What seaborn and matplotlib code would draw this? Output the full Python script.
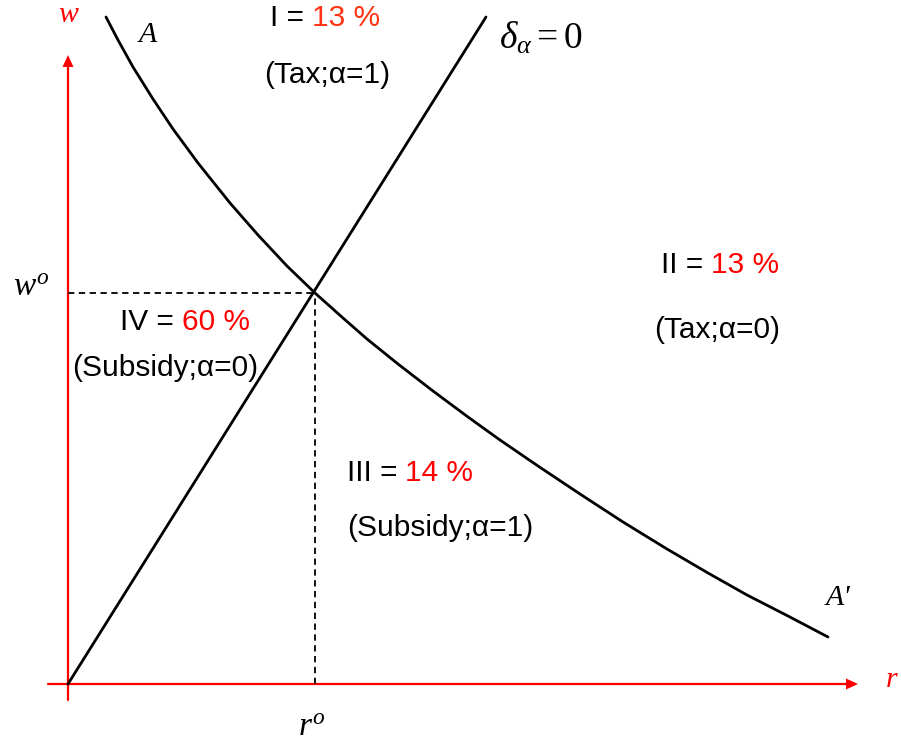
import matplotlib
matplotlib.use("Agg")
import matplotlib.pyplot as plt
import seaborn as sns
import pandas as pd

sns.set_theme(style="white")
plt.rcParams['font.family'] = ['Liberation Sans', 'DejaVu Sans']
plt.rcParams['mathtext.fontset'] = 'custom'
plt.rcParams['mathtext.rm'] = 'Liberation Serif'
plt.rcParams['mathtext.it'] = 'Liberation Serif:italic'

# Curve A-A' (data units)
curve_r = [38, 50, 65, 85, 105, 130, 162, 190, 219, 247, 275, 299, 330, 365,
           400, 432, 470, 512, 555, 599, 640, 679, 720, 760]
curve_w = [667, 644, 617, 585, 555, 521, 481, 449, 418, 391, 366, 345, 320, 293,
           267, 244, 218, 190, 162, 135, 111, 89, 68, 47]
# delta_alpha = 0 line
line_r = [0, 418]
line_w = [0, 667]
# equilibrium point
r0, w0 = 247, 391
# region labels
region_names = ["I", "II", "III", "IV"]
region_shares = ["13 %", "13 %", "14 %", "60 %"]
region_notes = ["(Tax;α=1)", "(Tax;α=0)", "(Subsidy;α=1)", "(Subsidy;α=0)"]

fig = plt.figure(figsize=(9.01, 7.42), dpi=100)
ax = fig.add_axes([0, 0, 1, 1])
ax.set_xlim(-68, 833)
ax.set_ylim(-58, 684)
ax.axis('off')

# axes (red) with arrows
red = '#ff0000'
ax.plot([-20, 778], [0, 0], color=red, lw=1.6, zorder=2)
ax.fill([778, 778, 790], [-5.5, 5.5, 0], color=red, lw=0, zorder=2)
ax.plot([0, 0], [-16, 617], color=red, lw=1.6, zorder=2)
ax.fill([-5.5, 5.5, 0], [617, 617, 629], color=red, lw=0, zorder=2)

# dashed reference lines
ax.plot([0, r0], [w0, w0], color='black', lw=1.3, ls=(0, (3.5, 2.5)), zorder=3)
ax.plot([r0, r0], [0, w0], color='black', lw=1.3, ls=(0, (3.5, 2.5)), zorder=3)

df_curve = pd.DataFrame({"r": curve_r, "w": curve_w})
df_line = pd.DataFrame({"r": line_r, "w": line_w})
sns.lineplot(data=df_curve, x="r", y="w", ax=ax, color='black', lw=2.0,
             sort=False, estimator=None, zorder=4)
sns.lineplot(data=df_line, x="r", y="w", ax=ax, color='black', lw=2.0,
             sort=False, estimator=None, zorder=4)

fs = 21.5
serif = dict(family='Liberation Serif', style='italic', fontsize=fs)

ax.text(0, 669, "w", color=red, ha='center', va='center', **serif)
ax.text(824, 4, "r", color=red, ha='center', va='center', **serif)
ax.text(80, 649, "A", color='black', ha='center', va='center', **serif)
ax.text(770, 86, "A'", color='black', ha='center', va='center', **serif)
ax.text(-37, 396, r"$w^{o}$", color='black', ha='center', va='center', fontsize=24)
ax.text(244, -44, r"$r^{o}$", color='black', ha='center', va='center', fontsize=24)
ax.text(473, 646, r"$\delta_{\alpha}=0$", color='black', ha='center', va='center', fontsize=27)

# region labels: name part black, share part red
name_pos = [(257, 666), (652, 419), (342, 211), (117, 362)]
note_pos = [(259, 609), (649, 354), (372, 156), (97, 316)]
share_colors = ['#ff3311', red, red, red]
fig.canvas.draw()
renderer = fig.canvas.get_renderer()
for name, share, note, (nx, ny), (tx, ty), sc in zip(region_names, region_shares,
                                                     region_notes, name_pos, note_pos, share_colors):
    t1 = ax.text(0, 0, name + " = ", fontsize=fs)
    nw = t1.get_window_extent(renderer=renderer).width
    t1.remove()
    t2 = ax.text(0, 0, share, fontsize=fs)
    sw = t2.get_window_extent(renderer=renderer).width
    t2.remove()
    left = nx - (nw + sw) / 2
    ax.text(left + nw, ny, name + " = ", color='black', ha='right', va='center', fontsize=fs)
    ax.text(left + nw, ny, share, color=sc, ha='left', va='center', fontsize=fs)
    ax.text(tx, ty, note, color='black', ha='center', va='center', fontsize=fs)

fig.savefig("out.png", dpi=100)
